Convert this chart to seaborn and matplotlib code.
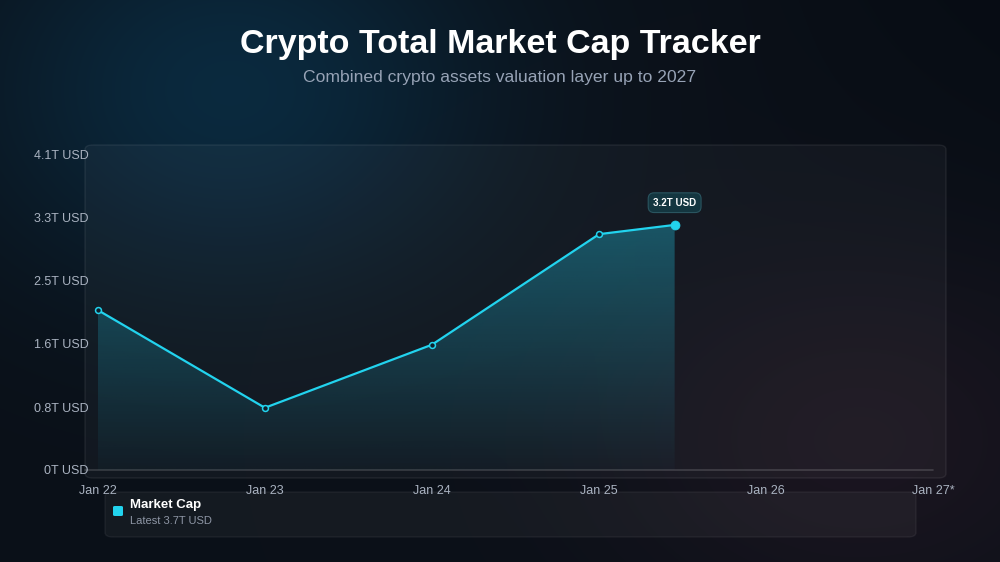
import numpy as np
import pandas as pd
import matplotlib
matplotlib.use("Agg")
import matplotlib.pyplot as plt
import matplotlib.dates as mdates
from matplotlib.patches import FancyBboxPatch, Polygon
import seaborn as sns

# data
dates = ["2022-01-01", "2023-01-01", "2024-01-01", "2025-01-01", "2025-06-15"]
market_cap = [2.08, 0.81, 1.63, 3.07, 3.19]
tick_dates = ["2022-01-01", "2023-01-01", "2024-01-01", "2025-01-01", "2026-01-01", "2027-01-01"]
x_labels = ["Jan 22", "Jan 23", "Jan 24", "Jan 25", "Jan 26", "Jan 27*"]
y_ticks = [0, 0.82, 1.64, 2.46, 3.28, 4.1]
y_labels = ["0T USD", "0.8T USD", "1.6T USD", "2.5T USD", "3.3T USD", "4.1T USD"]
last_label = "3.2T USD"
legend_name = "Market Cap"
legend_sub = "Latest 3.7T USD"

CYAN = "#22d3ee"
TICK = "#aab3c1"

sns.set_theme(style="dark")
plt.rcParams["font.family"] = ["Liberation Sans", "DejaVu Sans"]

df = pd.DataFrame({"date": pd.to_datetime(dates), "cap": market_cap})

fig = plt.figure(figsize=(10, 5.62), dpi=100)
W, H = 1000, 562

# background with soft glows
bg_ax = fig.add_axes([0, 0, 1, 1], zorder=-10)
yy, xx = np.mgrid[0:H, 0:W]
base = np.array([0.043, 0.063, 0.094])
img = np.ones((H, W, 3)) * base
g1 = np.exp(-(((xx - 230) / 260) ** 2 + ((yy - 90) / 200) ** 2))
img += g1[..., None] * np.array([0.0, 0.10, 0.15])
g2 = np.exp(-(((xx - 860) / 250) ** 2 + ((yy - 440) / 180) ** 2))
img += g2[..., None] * np.array([0.06, 0.02, 0.03])
edge = np.clip((xx - 700) / 300, 0, 1) * np.clip((300 - yy) / 300, 0, 1)
img -= edge[..., None] * 0.015
bg_ax.imshow(np.clip(img, 0, 1), aspect="auto", extent=[0, 1, 0, 1])
bg_ax.set_axis_off()

# panel
def px(x0, y0, x1, y1):
    return x0 / W, 1 - y1 / H, (x1 - x0) / W, (y1 - y0) / H

l, b, w, h = px(85, 145, 946, 478)
fig.patches.append(FancyBboxPatch((l, b), w, h, boxstyle="round,pad=0,rounding_size=0.008",
                                  transform=fig.transFigure, facecolor=(1, 1, 1, 0.035),
                                  edgecolor=(1, 1, 1, 0.07), lw=1, zorder=-5))
l, b, w, h = px(105, 492, 916, 537)
fig.patches.append(FancyBboxPatch((l, b), w, h, boxstyle="round,pad=0,rounding_size=0.008",
                                  transform=fig.transFigure, facecolor=(1, 1, 1, 0.045),
                                  edgecolor=(1, 1, 1, 0.06), lw=1, zorder=-5))

ax = fig.add_axes([0.098, 1 - 470 / H, 0.835, 315 / H])
ax.set_facecolor((0, 0, 0, 0))
for s in ax.spines.values():
    s.set_visible(False)

x0 = pd.Timestamp("2022-01-01")
x1 = pd.Timestamp("2027-01-01")

# gradient fill under the line
xnum = mdates.date2num(df["date"])
poly = Polygon(np.column_stack([np.r_[xnum, xnum[-1], xnum[0]], np.r_[market_cap, 0, 0]]),
               closed=True, facecolor="none", edgecolor="none")
ax.add_patch(poly)
grad = np.zeros((200, 2, 4))
grad[..., :3] = matplotlib.colors.to_rgb("#22b8d4")
grad[..., 3] = np.linspace(0.38, 0.03, 200)[:, None]
im = ax.imshow(grad, aspect="auto", extent=[xnum[0], xnum[-1], 0, max(market_cap)],
               origin="upper", zorder=1)
im.set_clip_path(poly)

sns.lineplot(data=df, x="date", y="cap", ax=ax, color=CYAN, lw=1.6, zorder=3)
sns.scatterplot(data=df.iloc[:-1], x="date", y="cap", ax=ax, s=18, color="#10202b",
                edgecolor=CYAN, linewidth=1.1, zorder=4, clip_on=False)
sns.scatterplot(data=df.iloc[-1:], x="date", y="cap", ax=ax, s=42, color=CYAN,
                edgecolor=CYAN, linewidth=0.5, zorder=5, clip_on=False)
ax.set_xlim(x0, x1)
ax.set_ylim(0, 4.1)

ax.annotate(last_label, xy=(df["date"].iloc[-1], market_cap[-1]), xytext=(0, 16),
            textcoords="offset points", ha="center", va="center", fontsize=7,
            fontweight="bold", color="white",
            bbox=dict(boxstyle="round,pad=0.5,rounding_size=0.6", fc="#143640",
                      ec="#2a5560", lw=0.8))

ax.axhline(0, xmin=-0.016, xmax=1.0, color=(1, 1, 1, 0.16), lw=1.2, clip_on=False, zorder=2)

ax.set_xticks(pd.to_datetime(tick_dates))
ax.set_xticklabels(x_labels)
ax.set_yticks(y_ticks)
ax.set_yticklabels(y_labels)
ax.tick_params(axis="both", length=0, colors=TICK, labelsize=9)
ax.tick_params(axis="y", pad=7)
ax.tick_params(axis="x", pad=10.5)
ax.grid(False)
ax.set_xlabel("")
ax.set_ylabel("")

fig.text(0.5, 1 - 44 / H, "Crypto Total Market Cap Tracker", ha="center", va="center",
         fontsize=24.5, fontweight="bold", color="white")
fig.text(0.5, 1 - 77 / H, "Combined crypto assets valuation layer up to 2027", ha="center",
         va="center", fontsize=12.6, color="#97a3b6")

# legend card
fig.patches.append(FancyBboxPatch((113 / W, 1 - 516 / H), 10 / W, 10 / H,
                                  boxstyle="round,pad=0,rounding_size=0.002",
                                  transform=fig.transFigure, facecolor=CYAN, edgecolor="none"))
fig.text(130 / W, 1 - 505 / H, legend_name, ha="left", va="center", fontsize=9.5,
         fontweight="bold", color="white")
fig.text(130 / W, 1 - 521 / H, legend_sub, ha="left", va="center", fontsize=8, color="#8e96a5")

fig.savefig("out.png", dpi=100)
